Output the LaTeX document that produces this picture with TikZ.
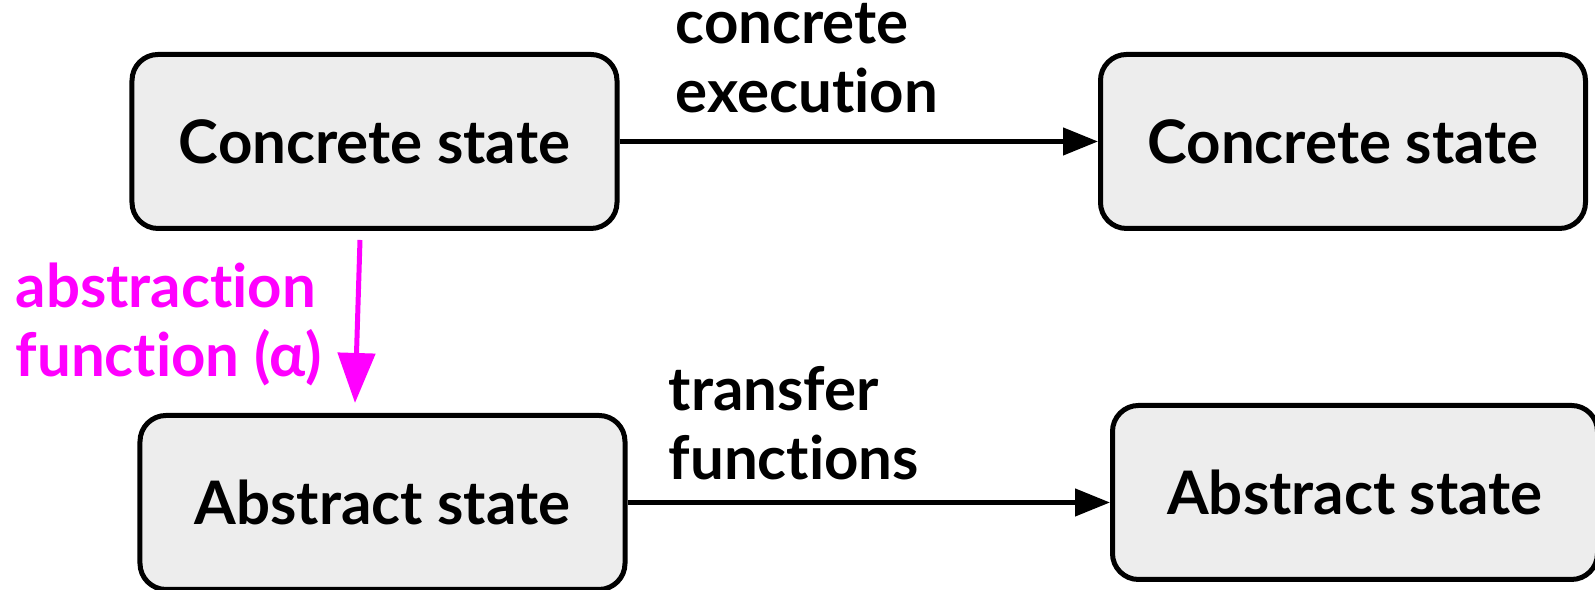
\documentclass[tikz,border=0pt]{standalone}
\usepackage{fontspec}
\setmainfont{Lato}[Ligatures=NoCommon]
\usepackage{tikz}
\usetikzlibrary{arrows.meta, positioning, calc}
\definecolor{statefill}{HTML}{EDEDED}
\definecolor{absmag}{HTML}{FF00FF}
\tikzset{
  state/.style={rectangle, rounded corners=0.26cm, draw=black, fill=statefill,
                line width=0.05cm, minimum width=4.85cm, minimum height=1.74cm,
                inner sep=0pt, font=\fontsize{17.07}{20}\selectfont\bfseries},
  lbl/.style={anchor=base west, align=left, inner sep=0pt,
              font=\fontsize{17.07}{19.9}\selectfont\bfseries},
  step arrow/.style={-{Triangle[length=0.35cm, width=0.27cm]}, line width=0.045cm},
  alpha arrow/.style={-{Triangle[length=0.5cm, width=0.37cm]}, line width=0.05cm, absmag},
}
\begin{document}
\begin{tikzpicture}
  \useasboundingbox (0,0) rectangle (15.95,5.90);
  \node[state] (c1) at (3.745,4.485) {Concrete state};
  \node[state] (c2) at (13.43,4.485) {Concrete state};
  \node[state] (a1) at (3.825,0.875) {Abstract state};
  \node[state] (a2) at (13.55,0.975) {Abstract state};
  \draw[step arrow] (c1.east) -- (c2.west);
  \draw[step arrow] (a1.east) -- (a1.east -| a2.west);
  \draw[alpha arrow] ($(c1.south)+(-0.145,-0.09)$) -- ($(a1.north)+(-0.275,0.10)$);
  % anchor is the baseline of the last line
  \node[lbl] (cexec) at (6.75,4.77) {concrete\\execution};
  \node[lbl] (tfun) at (6.68,1.10) {transfer\\functions};
  \node[lbl, absmag] (afun) at (0.15,2.13) {abstraction\\function (α)};
\end{tikzpicture}
\end{document}
